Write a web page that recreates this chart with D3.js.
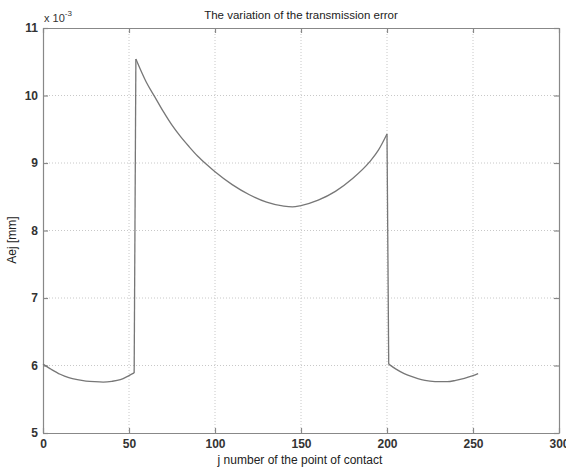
<!DOCTYPE html>
<html>
<head>
<meta charset="utf-8">
<script src="https://cdn.jsdelivr.net/npm/d3@7"></script>
<style>
  body { margin: 0; background: #fff; }
  text { font-family: "Liberation Sans", Arial, sans-serif; }
</style>
</head>
<body>
<div class="chart"></div>
<script>
// contact point index j
let jVals = [0, 5, 10, 15, 20, 25, 30, 35, 40, 45, 50, 53,
    54, 60, 65, 70, 75, 80, 85, 90, 95, 100, 110, 120, 130, 140, 145, 150, 160, 170, 180, 190, 195, 200,
    201, 205, 210, 215, 220, 225, 230, 235, 240, 245, 250, 253];
// Aej in units of 1e-3 mm
let aejVals = [6.02, 5.94, 5.87, 5.82, 5.79, 5.77, 5.76, 5.755, 5.765, 5.79, 5.85, 5.89,
    10.54, 10.2, 9.98, 9.76, 9.56, 9.39, 9.24, 9.1, 8.98, 8.87, 8.68, 8.53, 8.42, 8.36, 8.35, 8.37, 8.45, 8.58, 8.77, 9.02, 9.19, 9.43,
    6.02, 5.95, 5.88, 5.83, 5.79, 5.77, 5.76, 5.76, 5.78, 5.81, 5.85, 5.88];
let xTicks = [0, 50, 100, 150, 200, 250, 300];
let yTicks = [5, 6, 7, 8, 9, 10, 11];

function drawChart() {
    let w = 566;
    let h = 467;
    let left = 43, right = 559, top = 28, bottom = 433;

    let svg = d3.select(".chart")
        .append("svg")
        .attr("width", w)
        .attr("height", h);

    let x = d3.scaleLinear().domain([0, 300]).range([left, right]);
    let y = d3.scaleLinear().domain([5, 11]).range([bottom, top]);

    // grid
    let grid = svg.append("g").attr("stroke", "#c8c8c8").attr("stroke-dasharray", "1,2");
    grid.selectAll(".gx")
        .data(xTicks.slice(1, -1))
        .enter().append("line")
        .attr("x1", d => x(d)).attr("x2", d => x(d))
        .attr("y1", top).attr("y2", bottom);
    grid.selectAll(".gy")
        .data(yTicks.slice(1, -1))
        .enter().append("line")
        .attr("x1", left).attr("x2", right)
        .attr("y1", d => y(d)).attr("y2", d => y(d));

    // axes, ticks inward like matlab
    let fmt = d3.format("d");
    let axB = svg.append("g").attr("transform", "translate(0," + bottom + ")")
        .call(d3.axisBottom(x).tickValues(xTicks).tickFormat(fmt).tickSizeInner(-5).tickSizeOuter(0).tickPadding(6));
    let axL = svg.append("g").attr("transform", "translate(" + left + ",0)")
        .call(d3.axisLeft(y).tickValues(yTicks).tickFormat(fmt).tickSizeInner(-5).tickSizeOuter(0).tickPadding(5));
    let axT = svg.append("g").attr("transform", "translate(0," + top + ")")
        .call(d3.axisTop(x).tickValues(xTicks).tickSizeInner(-5).tickSizeOuter(0).tickFormat(""));
    let axR = svg.append("g").attr("transform", "translate(" + right + ",0)")
        .call(d3.axisRight(y).tickValues(yTicks).tickSizeInner(-5).tickSizeOuter(0).tickFormat(""));

    [axB, axL, axT, axR].forEach(function (a) {
        a.selectAll("path, line").attr("stroke", "#888").attr("stroke-width", 1.2);
        a.selectAll("text")
            .attr("fill", "#333")
            .attr("font-size", "12px")
            .attr("font-weight", "bold")
            .attr("font-family", "Liberation Sans, Arial, sans-serif");
    });

    // exponent label
    let ex = svg.append("text")
        .attr("x", left + 1).attr("y", 22)
        .attr("font-size", "11px").attr("fill", "#333");
    ex.append("tspan").text("x 10");
    ex.append("tspan").attr("dy", -6).attr("font-size", "8px").text("-3");

    // the curve: smooth pieces, joined by the two vertical jumps
    let pts = jVals.map((d, i) => [d, aejVals[i]]);
    let pieces = [pts.slice(0, 12), pts.slice(12, 34), pts.slice(34)];
    let smooth = d3.line().x(d => x(d[0])).y(d => y(d[1])).curve(d3.curveMonotoneX);
    let straight = d3.line().x(d => x(d[0])).y(d => y(d[1]));
    let g = svg.append("g")
        .attr("fill", "none")
        .attr("stroke", "#777")
        .attr("stroke-width", 1.3)
        .attr("stroke-linejoin", "round");
    g.selectAll(".piece")
        .data(pieces)
        .enter().append("path")
        .attr("d", smooth);
    g.selectAll(".jump")
        .data([[pts[11], pts[12]], [pts[33], pts[34]]])
        .enter().append("path")
        .attr("d", straight);

    svg.append("text")
        .attr("x", 301).attr("y", 19)
        .attr("text-anchor", "middle")
        .attr("font-size", "11.5px").attr("fill", "#222")
        .text("The variation of the transmission error");

    svg.append("text")
        .attr("x", 300).attr("y", 464)
        .attr("text-anchor", "middle")
        .attr("font-size", "12px").attr("fill", "#222")
        .text("j number of the point of contact");

    svg.append("text")
        .attr("transform", "translate(16,240) rotate(-90)")
        .attr("text-anchor", "middle")
        .attr("font-size", "12px").attr("fill", "#222")
        .text("Aej [mm]");
}

drawChart();
</script>
</body>
</html>
